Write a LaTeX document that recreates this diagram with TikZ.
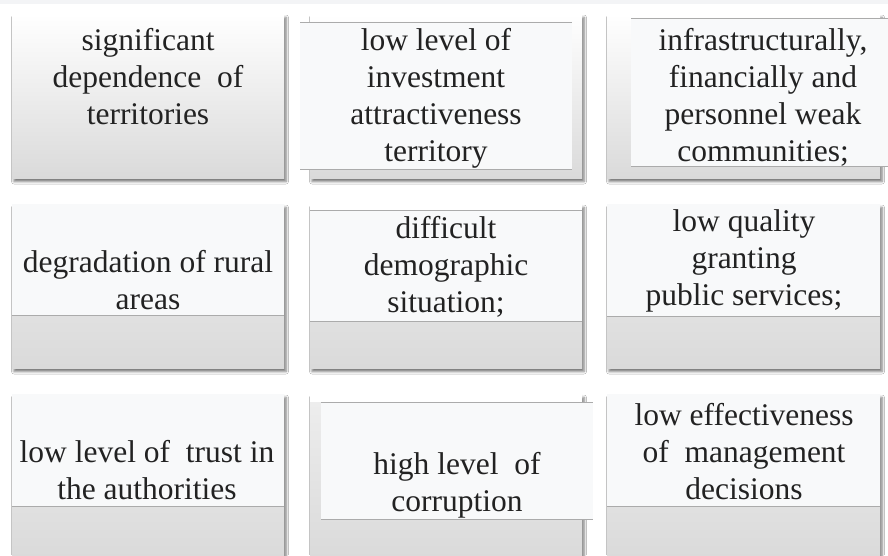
\documentclass[tikz,border=0pt]{standalone}
\usepackage{fontspec}
\setmainfont{Liberation Serif}
\usetikzlibrary{shadows.blur}
\definecolor{panel}{HTML}{F8F9FA}
\definecolor{band}{HTML}{F3F4F6}
\definecolor{rulec}{HTML}{ABABAB}
\definecolor{shadeA}{HTML}{EEEEEE}
\definecolor{shadeB}{HTML}{DADADA}
\definecolor{ink}{HTML}{222222}
\tikzset{
  card/.style={rectangle, inner sep=0pt, outer sep=0pt, draw=none,
    minimum width=272pt, minimum height=164pt,
    top color=shadeA, bottom color=shadeB,
    blur shadow={shadow xshift=2pt, shadow yshift=-3.5pt, shadow blur radius=2.5pt, shadow opacity=55}},
  cardfade/.style={card, top color=white, middle color=white, bottom color=shadeB},
  innerpanel/.style={rectangle, inner sep=0pt, outer sep=0pt, draw=none, fill=panel},
  ruleline/.style={draw=rulec, line width=0.8pt},
  txt/.style={text=ink, align=center, inner sep=0pt, font=\fontsize{31.5}{37}\selectfont}
}
\begin{document}
\begin{tikzpicture}[x=1pt, y=-1pt]
\useasboundingbox (0,0) rectangle (888,555);
\fill[white] (0,0) rectangle (888,555);
\fill[band] (0,0) rectangle (888,4);

% row 1
\node[cardfade, anchor=north west] (b1) at (12,14) {};
\node[cardfade, anchor=north west] (b2) at (310,14) {};
\node[cardfade, anchor=north west, minimum width=273pt] (b3) at (607,14) {};
\node[innerpanel, anchor=north west, minimum width=272pt, minimum height=147pt] (p2) at (300,22) {};
\draw[ruleline] (p2.north west) -- (p2.north east);
\draw[ruleline] (p2.south west) -- (p2.south east);
\node[innerpanel, anchor=north west, minimum width=260pt, minimum height=148pt] (p3) at (631,18) {};
\draw[ruleline] (p3.north west) -- (p3.north east);
\draw[ruleline] (p3.south west) -- (p3.south east);

% row 2
\node[card, anchor=north west] (b4) at (12,204) {};
\node[card, anchor=north west] (b5) at (310,204) {};
\node[card, anchor=north west, minimum width=273pt] (b6) at (607,204) {};
\node[innerpanel, anchor=north west, minimum width=272pt, minimum height=111pt] (p4) at (12,204) {};
\draw[ruleline] (p4.south west) -- (p4.south east);
\fill[white] (310,204) rectangle (582,210);
\node[innerpanel, anchor=north west, minimum width=272pt, minimum height=111pt] (p5) at (310,210) {};
\draw[ruleline] (p5.north west) -- (p5.north east);
\draw[ruleline] (p5.south west) -- (p5.south east);
\node[innerpanel, anchor=north west, minimum width=273pt, minimum height=112pt] (p6) at (607,204) {};
\draw[ruleline] (p6.south west) -- (p6.south east);

% row 3
\node[card, anchor=north west] (b7) at (12,394) {};
\node[card, anchor=north west] (b8) at (310,394) {};
\node[card, anchor=north west, minimum width=273pt] (b9) at (607,394) {};
\node[innerpanel, anchor=north west, minimum width=272pt, minimum height=112pt] (p7) at (12,394) {};
\draw[ruleline] (p7.south west) -- (p7.south east);
\fill[white] (310,394) rectangle (582,402);
\node[innerpanel, anchor=north west, minimum width=272pt, minimum height=117pt] (p8) at (321,402) {};
\draw[ruleline] (p8.north west) -- (p8.north east);
\draw[ruleline] (p8.south west) -- (p8.south east);
\node[innerpanel, anchor=north west, minimum width=273pt, minimum height=112pt] (p9) at (607,394) {};
\draw[ruleline] (p9.south west) -- (p9.south east);

% texts
\node[txt] (t1) at (148,77) {significant\\dependence\ \ of\\territories};
\node[txt] (t2) at (436,98) {low level of\\investment\\attractiveness\\territory};
\node[txt] (t3) at (763,97) {infrastructurally,\\financially and\\personnel weak\\communities;};
\node[txt] (t4) at (148,280) {degradation of rural\\areas};
\node[txt] (t5) at (446,267) {difficult\\demographic\\situation;};
\node[txt] (t6) at (744,261) {low quality\\granting\\public services;};
\node[txt] (t7) at (147,470) {low level of\ \ trust in\\the authorities};
\node[txt] (t8) at (457,485) {high level\ \ of\\corruption};
\node[txt] (t9) at (744,452) {low effectiveness\\of\ \ management\\decisions};
\end{tikzpicture}
\end{document}
